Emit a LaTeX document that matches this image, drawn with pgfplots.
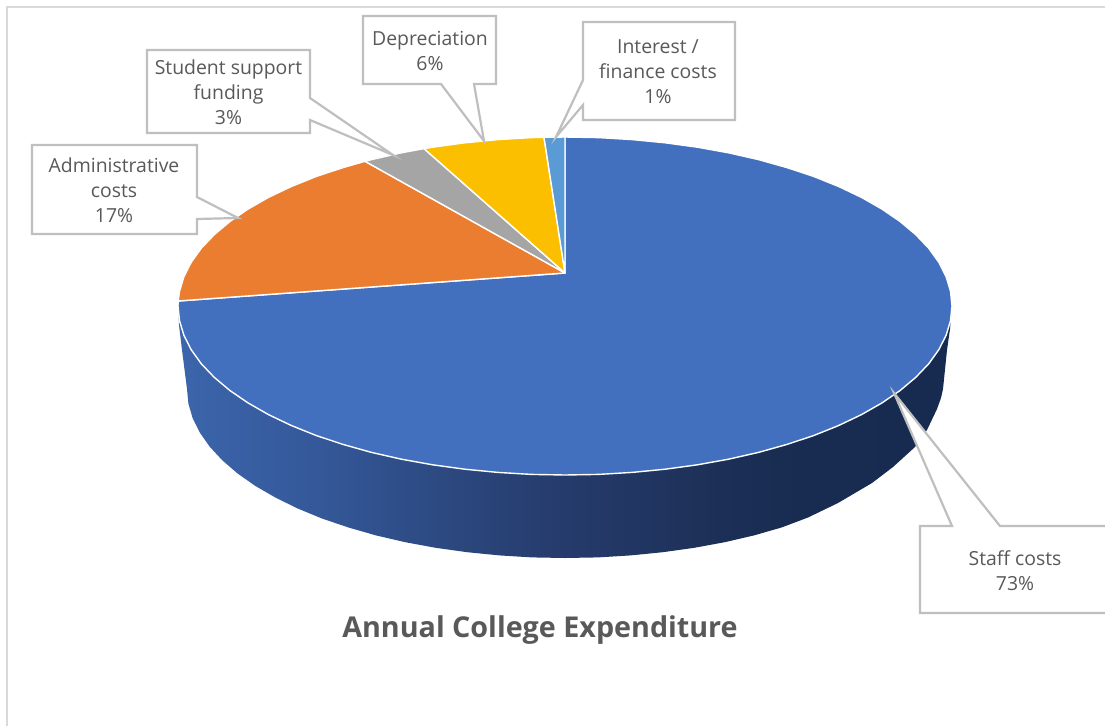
\documentclass[border=0pt]{standalone}
\usepackage{pgfplots}
\pgfplotsset{compat=1.18}
\usepackage{fontspec}
\setmainfont{Open Sans}

\definecolor{staff}{HTML}{4270BF}
\definecolor{admin}{HTML}{EB7D30}
\definecolor{support}{HTML}{A5A5A5}
\definecolor{deprec}{HTML}{FCBF00}
\definecolor{interest}{HTML}{5B9BD5}
\definecolor{calloutline}{HTML}{BFBFBF}
\definecolor{framegrey}{HTML}{D9D9D9}
\definecolor{labeltext}{HTML}{595959}
\definecolor{rimA}{HTML}{3C65AB}
\definecolor{rimB}{HTML}{355A9C}
\definecolor{rimC}{HTML}{2B477D}
\definecolor{rimD}{HTML}{253B6B}
\definecolor{rimE}{HTML}{1D3159}
\definecolor{rimF}{HTML}{182B50}
\definecolor{rimG}{HTML}{172A4F}

% Rim of the disc: light on the left, dark towards the right
\pgfdeclarehorizontalshading{rim}{100bp}{
  color(0bp)=(rimA); color(25bp)=(rimA); color(32.9bp)=(rimB); color(43.2bp)=(rimC);
  color(50bp)=(rimD); color(58.7bp)=(rimE); color(65.2bp)=(rimF); color(75bp)=(rimG);
  color(100bp)=(rimG)}

\tikzset{
  wedge/.style={fill=#1, draw=white, line width=1.4pt, line join=round},
  callout/.style={fill=white, draw=calloutline, line width=2.2pt, line join=miter},
  lab/.style={font=\fontsize{19.4}{25}\selectfont, text=labeltext, align=center, inner sep=0pt},
}

\begin{document}
\begin{tikzpicture}
\begin{axis}[
  scale only axis, width=1105pt, height=726pt,
  xmin=0, xmax=1105, ymin=0, ymax=726, y dir=reverse,
  hide axis,
]
% page background and frame
\addplot[fill=white, draw=none] coordinates {(0,0)(1105,0)(1105,726)(0,726)} --cycle;
\addplot[draw=framegrey, line width=2pt] coordinates {(7,726)(7,7)(1105,7)};

% rim of the disc
\addplot[shade, shading=rim, draw=none] coordinates {
  (178,306)(952,306)(950,329)(947,350)(943,389)(941,398)(937,409)(927,430)(915,447)(893,467)
  (872,483)(838,503)(808,517.5)(781.8,527.4)(754,535.4)(724.7,542.2)(694.3,547.8)(662.8,552.2)
  (630.6,555.4)(598,557.4)(565,558)(532,557.4)(499.4,555.4)(467.2,552.2)(435.7,547.8)(405.3,542.2)
  (376,535.4)(348.2,527.4)(322,518.5)(297.7,508.5)(275.5,497.6)(255.3,485.9)(237.6,473.5)
  (222.4,460.4)(209.8,446.8)(199.9,432.7)(192.7,418.3)(188.4,403.7)(187,389)(182,350)(179,325)
} --cycle;

% top face: staff costs
\addplot[wedge=staff] coordinates {
  (565,273)(565,137)(598.7,137.6)(632.2,139.6)(665.2,142.8)(697.4,147.2)(728.5,152.8)(758.5,159.6)
  (787,167.6)(813.8,176.5)(838.7,186.5)(861.5,197.4)(882,209.1)(900.1,221.5)(915.7,234.6)
  (928.7,248.2)(938.8,262.3)(946.1,276.7)(950.5,291.3)(952,306)(950.5,320.7)(946.1,335.3)
  (938.8,349.7)(928.7,363.8)(915.7,377.4)(900.1,390.5)(882,402.9)(861.5,414.6)(838.7,425.5)
  (813.8,435.5)(787,444.4)(758.5,452.4)(728.5,459.2)(697.4,464.8)(665.2,469.2)(632.2,472.4)
  (598.7,474.4)(565,475)(531.3,474.4)(497.8,472.4)(464.8,469.2)(432.6,464.8)(401.5,459.2)
  (371.5,452.4)(343,444.4)(316.2,435.5)(291.3,425.5)(268.5,414.6)(248,402.9)(229.9,390.5)
  (214.3,377.4)(201.3,363.8)(191.2,349.7)(183.9,335.3)(179.5,320.7)(178,306)(178.2,301)
} --cycle;
% administrative costs
\addplot[wedge=admin] coordinates {
  (565,273)(178.2,301)(179.5,291.3)(183.9,276.7)(191.2,262.3)(201.3,248.2)(214.3,234.6)(229.9,221.5)
  (248,209.1)(268.5,197.4)(291.3,186.5)(316.2,176.5)(343,167.6)(365,161.3)
} --cycle;
% student support funding
\addplot[wedge=support] coordinates {(565,273)(365,161.3)(371.5,159.6)(401.5,152.8)(424,148.6)} --cycle;
% depreciation
\addplot[wedge=deprec] coordinates {
  (565,273)(424,148.6)(432.6,147.2)(464.8,142.8)(497.8,139.6)(531.3,137.6)(544,137.3)
} --cycle;
% interest and finance costs
\addplot[wedge=interest] coordinates {(565,273)(544,137.3)(565,137)} --cycle;

% callouts with their pointers
\addplot[callout] coordinates {
  (32,145)(197,145)(197,197)(238,218)(197,219)(197,234)(32,234)} --cycle;
\addplot[callout] coordinates {
  (147,50)(310,50)(310,98)(393,155)(310,120)(310,133)(147,133)} --cycle;
\addplot[callout] coordinates {
  (363,16)(496,16)(496,84)(474,84)(484,141)(441,84)(363,84)} --cycle;
\addplot[callout] coordinates {
  (583,22)(735,22)(735,120)(583,120)(583,105)(556,137)(583,80)} --cycle;
% the last box runs off the right edge, so its outline stays open there
\addplot[fill=white, draw=none] coordinates {
  (1105,526)(1000,526)(894,393)(952,526)(920,526)(920,613)(1105,613)} --cycle;
\addplot[draw=calloutline, line width=2.2pt] coordinates {
  (1105,526)(1000,526)(894,393)(952,526)(920,526)(920,613)(1105,613)};

\node[lab] at (axis cs:114,190) {Administrative\\costs\\17\%};
\node[lab] at (axis cs:228.5,92.5) {Student support\\funding\\3\%};
\node[lab] at (axis cs:430,50.5) {Depreciation\\6\%};
\node[lab] at (axis cs:658,72) {Interest /\\finance costs\\1\%};
\node[lab] at (axis cs:1015,570.5) {Staff costs\\73\%};
\node[font=\fontsize{28.7}{34}\selectfont\bfseries, text=labeltext, inner sep=0pt]
  at (axis cs:540,630.5) {Annual College Expenditure};
\end{axis}
\end{tikzpicture}
\end{document}
